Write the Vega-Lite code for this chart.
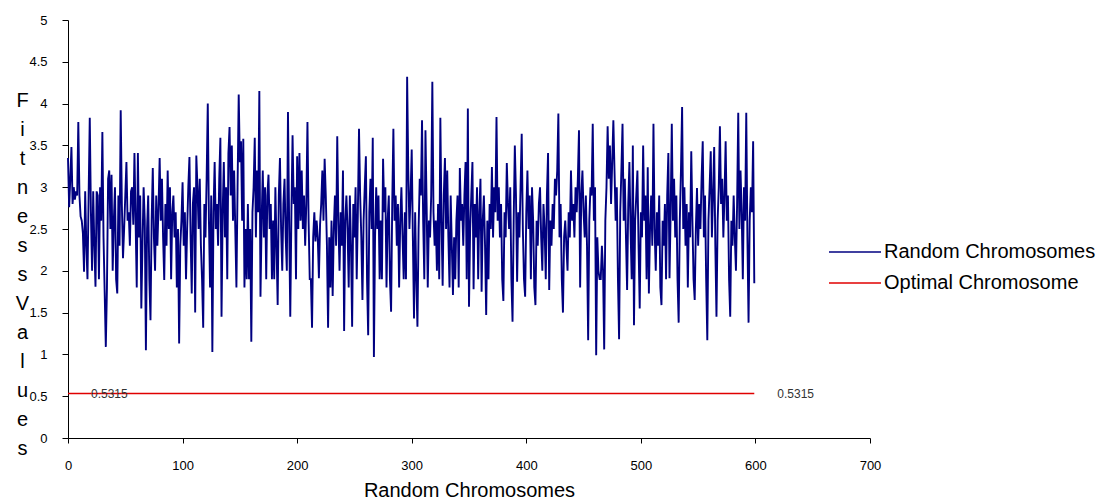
{
"$schema": "https://vega.github.io/schema/vega-lite/v6.json",
"width": 802,
"height": 418,
"autosize": {"type": "none"},
"padding": {"left": 68, "top": 20, "right": 231, "bottom": 63},
"background": "white",
"config": {"view": {"stroke": null}, "font": "Liberation Sans"},
"datasets": {
"rand": [
{"x":0,"y":3.35},{"x":1,"y":2.76},{"x":2,"y":3.1},{"x":3,"y":3.48},{"x":4,"y":2.8},{"x":5,"y":3.0},{"x":6,"y":2.85},{"x":7,"y":2.95},{"x":8,"y":2.9},{"x":9,"y":3.78},
{"x":10,"y":2.9},{"x":11,"y":2.65},{"x":12,"y":2.6},{"x":13,"y":2.45},{"x":14,"y":1.99},{"x":15,"y":2.95},{"x":16,"y":2.3},{"x":17,"y":1.9},{"x":18,"y":2.9},{"x":19,"y":3.83},
{"x":20,"y":2.7},{"x":21,"y":2.0},{"x":22,"y":2.95},{"x":23,"y":2.3},{"x":24,"y":1.81},{"x":25,"y":2.95},{"x":26,"y":2.9},{"x":27,"y":1.9},{"x":28,"y":3.0},{"x":29,"y":2.6},
{"x":30,"y":3.66},{"x":31,"y":2.4},{"x":32,"y":1.75},{"x":33,"y":1.09},{"x":34,"y":1.8},{"x":35,"y":3.1},{"x":36,"y":3.2},{"x":37,"y":2.5},{"x":38,"y":3.15},{"x":39,"y":2.0},
{"x":40,"y":2.6},{"x":41,"y":3.0},{"x":42,"y":1.9},{"x":43,"y":1.73},{"x":44,"y":2.9},{"x":45,"y":2.3},{"x":46,"y":3.92},{"x":47,"y":2.8},{"x":48,"y":2.15},{"x":49,"y":2.5},
{"x":50,"y":2.9},{"x":51,"y":3.3},{"x":52,"y":2.6},{"x":53,"y":2.7},{"x":54,"y":2.3},{"x":55,"y":2.95},{"x":56,"y":3.0},{"x":57,"y":2.55},{"x":58,"y":3.41},{"x":59,"y":2.6},
{"x":60,"y":1.8},{"x":61,"y":3.41},{"x":62,"y":2.4},{"x":63,"y":2.9},{"x":64,"y":1.55},{"x":65,"y":2.3},{"x":66,"y":3.0},{"x":67,"y":2.6},{"x":68,"y":1.05},{"x":69,"y":2.5},
{"x":70,"y":2.9},{"x":71,"y":1.9},{"x":72,"y":1.41},{"x":73,"y":2.6},{"x":74,"y":3.23},{"x":75,"y":2.4},{"x":76,"y":2.0},{"x":77,"y":2.9},{"x":78,"y":2.3},{"x":79,"y":2.75},
{"x":80,"y":3.35},{"x":81,"y":2.6},{"x":82,"y":3.1},{"x":83,"y":2.4},{"x":84,"y":1.89},{"x":85,"y":2.8},{"x":86,"y":2.3},{"x":87,"y":3.2},{"x":88,"y":2.5},{"x":89,"y":3.0},
{"x":90,"y":1.9},{"x":91,"y":2.7},{"x":92,"y":2.9},{"x":93,"y":2.4},{"x":94,"y":2.7},{"x":95,"y":1.8},{"x":96,"y":2.5},{"x":97,"y":1.13},{"x":98,"y":2.3},{"x":99,"y":2.6},
{"x":100,"y":3.06},{"x":101,"y":2.3},{"x":102,"y":2.7},{"x":103,"y":1.9},{"x":104,"y":2.5},{"x":105,"y":3.0},{"x":106,"y":3.36},{"x":107,"y":2.4},{"x":108,"y":1.73},{"x":109,"y":2.8},
{"x":110,"y":3.0},{"x":111,"y":1.5},{"x":112,"y":3.38},{"x":113,"y":3.0},{"x":114,"y":2.5},{"x":115,"y":3.1},{"x":116,"y":2.3},{"x":117,"y":1.9},{"x":118,"y":1.32},{"x":119,"y":2.8},
{"x":120,"y":2.4},{"x":121,"y":3.1},{"x":122,"y":4.0},{"x":123,"y":2.6},{"x":124,"y":1.8},{"x":125,"y":2.9},{"x":126,"y":1.03},{"x":127,"y":2.7},{"x":128,"y":3.3},{"x":129,"y":2.5},
{"x":130,"y":2.8},{"x":131,"y":2.3},{"x":132,"y":3.1},{"x":133,"y":3.59},{"x":134,"y":1.45},{"x":135,"y":2.7},{"x":136,"y":3.3},{"x":137,"y":2.4},{"x":138,"y":3.0},{"x":139,"y":1.9},
{"x":140,"y":3.4},{"x":141,"y":3.72},{"x":142,"y":2.9},{"x":143,"y":3.5},{"x":144,"y":2.6},{"x":145,"y":3.2},{"x":146,"y":2.5},{"x":147,"y":1.8},{"x":148,"y":3.0},{"x":149,"y":4.11},
{"x":150,"y":3.3},{"x":151,"y":3.55},{"x":152,"y":2.6},{"x":153,"y":3.58},{"x":154,"y":1.8},{"x":155,"y":2.5},{"x":156,"y":1.9},{"x":157,"y":2.8},{"x":158,"y":1.9},{"x":159,"y":2.5},
{"x":160,"y":1.15},{"x":161,"y":2.7},{"x":162,"y":3.0},{"x":163,"y":3.59},{"x":164,"y":2.4},{"x":165,"y":3.2},{"x":166,"y":2.7},{"x":167,"y":4.15},{"x":168,"y":1.69},{"x":169,"y":2.6},
{"x":170,"y":3.2},{"x":171,"y":2.4},{"x":172,"y":3.0},{"x":173,"y":1.9},{"x":174,"y":2.9},{"x":175,"y":3.15},{"x":176,"y":2.5},{"x":177,"y":2.8},{"x":178,"y":1.9},{"x":179,"y":2.6},
{"x":180,"y":1.9},{"x":181,"y":3.0},{"x":182,"y":2.3},{"x":183,"y":1.59},{"x":184,"y":2.9},{"x":185,"y":3.35},{"x":186,"y":2.5},{"x":187,"y":2.0},{"x":188,"y":2.8},{"x":189,"y":3.1},
{"x":190,"y":2.4},{"x":191,"y":2.0},{"x":192,"y":3.9},{"x":193,"y":2.6},{"x":194,"y":1.45},{"x":195,"y":2.7},{"x":196,"y":3.62},{"x":197,"y":2.8},{"x":198,"y":3.0},{"x":199,"y":1.9},
{"x":200,"y":3.37},{"x":201,"y":2.5},{"x":202,"y":3.41},{"x":203,"y":2.6},{"x":204,"y":3.2},{"x":205,"y":2.5},{"x":206,"y":2.9},{"x":207,"y":2.3},{"x":208,"y":2.8},{"x":209,"y":3.78},
{"x":210,"y":2.6},{"x":211,"y":1.9},{"x":212,"y":1.9},{"x":213,"y":1.32},{"x":214,"y":2.4},{"x":215,"y":2.7},{"x":216,"y":2.35},{"x":217,"y":2.6},{"x":218,"y":2.4},{"x":219,"y":1.91},
{"x":220,"y":2.55},{"x":221,"y":2.8},{"x":222,"y":3.2},{"x":223,"y":2.6},{"x":224,"y":3.34},{"x":225,"y":2.9},{"x":226,"y":2.3},{"x":227,"y":1.32},{"x":228,"y":2.4},{"x":229,"y":1.8},
{"x":230,"y":2.6},{"x":231,"y":1.7},{"x":232,"y":2.5},{"x":233,"y":2.9},{"x":234,"y":2.3},{"x":235,"y":3.61},{"x":236,"y":2.6},{"x":237,"y":2.0},{"x":238,"y":2.7},{"x":239,"y":2.3},
{"x":240,"y":3.2},{"x":241,"y":1.28},{"x":242,"y":2.6},{"x":243,"y":2.9},{"x":244,"y":2.5},{"x":245,"y":1.8},{"x":246,"y":2.9},{"x":247,"y":2.3},{"x":248,"y":1.33},{"x":249,"y":2.8},
{"x":250,"y":2.4},{"x":251,"y":3.0},{"x":252,"y":1.9},{"x":253,"y":2.7},{"x":254,"y":3.7},{"x":255,"y":2.9},{"x":256,"y":2.4},{"x":257,"y":1.65},{"x":258,"y":2.6},{"x":259,"y":3.0},
{"x":260,"y":3.37},{"x":261,"y":1.9},{"x":262,"y":1.23},{"x":263,"y":2.7},{"x":264,"y":3.1},{"x":265,"y":2.5},{"x":266,"y":3.59},{"x":267,"y":0.97},{"x":268,"y":2.4},{"x":269,"y":3.0},
{"x":270,"y":2.5},{"x":271,"y":2.9},{"x":272,"y":1.9},{"x":273,"y":2.6},{"x":274,"y":1.9},{"x":275,"y":3.34},{"x":276,"y":2.7},{"x":277,"y":3.0},{"x":278,"y":1.8},{"x":279,"y":2.6},
{"x":280,"y":2.9},{"x":281,"y":1.9},{"x":282,"y":1.51},{"x":283,"y":2.8},{"x":284,"y":3.7},{"x":285,"y":2.6},{"x":286,"y":2.9},{"x":287,"y":2.3},{"x":288,"y":2.8},{"x":289,"y":1.8},
{"x":290,"y":2.6},{"x":291,"y":3.0},{"x":292,"y":2.4},{"x":293,"y":1.9},{"x":294,"y":2.7},{"x":295,"y":1.9},{"x":296,"y":4.32},{"x":297,"y":3.2},{"x":298,"y":2.5},{"x":299,"y":2.9},
{"x":300,"y":3.45},{"x":301,"y":2.4},{"x":302,"y":1.43},{"x":303,"y":2.7},{"x":304,"y":1.9},{"x":305,"y":1.33},{"x":306,"y":2.5},{"x":307,"y":3.1},{"x":308,"y":2.9},{"x":309,"y":3.8},
{"x":310,"y":2.6},{"x":311,"y":1.9},{"x":312,"y":3.68},{"x":313,"y":2.8},{"x":314,"y":1.8},{"x":315,"y":2.6},{"x":316,"y":2.4},{"x":317,"y":2.9},{"x":318,"y":4.26},{"x":319,"y":2.7},
{"x":320,"y":2.3},{"x":321,"y":2.6},{"x":322,"y":2.0},{"x":323,"y":2.8},{"x":324,"y":1.9},{"x":325,"y":3.83},{"x":326,"y":2.6},{"x":327,"y":1.82},{"x":328,"y":2.9},{"x":329,"y":3.35},
{"x":330,"y":2.5},{"x":331,"y":3.2},{"x":332,"y":2.4},{"x":333,"y":1.8},{"x":334,"y":2.9},{"x":335,"y":2.3},{"x":336,"y":1.71},{"x":337,"y":2.4},{"x":338,"y":1.9},{"x":339,"y":2.6},
{"x":340,"y":2.9},{"x":341,"y":1.8},{"x":342,"y":3.23},{"x":343,"y":2.6},{"x":344,"y":2.8},{"x":345,"y":2.3},{"x":346,"y":2.9},{"x":347,"y":3.3},{"x":348,"y":1.9},{"x":349,"y":3.94},
{"x":350,"y":1.57},{"x":351,"y":2.5},{"x":352,"y":2.9},{"x":353,"y":3.3},{"x":354,"y":1.78},{"x":355,"y":2.8},{"x":356,"y":2.4},{"x":357,"y":3.0},{"x":358,"y":1.9},{"x":359,"y":2.7},
{"x":360,"y":3.1},{"x":361,"y":1.75},{"x":362,"y":2.6},{"x":363,"y":2.9},{"x":364,"y":2.3},{"x":365,"y":1.47},{"x":366,"y":2.6},{"x":367,"y":1.9},{"x":368,"y":2.8},{"x":369,"y":2.5},
{"x":370,"y":3.24},{"x":371,"y":2.4},{"x":372,"y":3.0},{"x":373,"y":2.7},{"x":374,"y":3.84},{"x":375,"y":2.6},{"x":376,"y":3.0},{"x":377,"y":2.4},{"x":378,"y":2.8},{"x":379,"y":1.9},
{"x":380,"y":1.64},{"x":381,"y":2.7},{"x":382,"y":2.4},{"x":383,"y":3.29},{"x":384,"y":2.8},{"x":385,"y":2.5},{"x":386,"y":3.0},{"x":387,"y":1.9},{"x":388,"y":1.39},{"x":389,"y":2.6},
{"x":390,"y":3.5},{"x":391,"y":2.9},{"x":392,"y":1.87},{"x":393,"y":2.7},{"x":394,"y":2.4},{"x":395,"y":3.0},{"x":396,"y":3.64},{"x":397,"y":2.5},{"x":398,"y":1.9},{"x":399,"y":1.69},
{"x":400,"y":2.7},{"x":401,"y":3.2},{"x":402,"y":2.5},{"x":403,"y":2.9},{"x":404,"y":1.9},{"x":405,"y":3.0},{"x":406,"y":2.6},{"x":407,"y":1.8},{"x":408,"y":1.59},{"x":409,"y":2.6},
{"x":410,"y":2.3},{"x":411,"y":2.8},{"x":412,"y":3.0},{"x":413,"y":2.4},{"x":414,"y":2.0},{"x":415,"y":2.8},{"x":416,"y":2.5},{"x":417,"y":1.9},{"x":418,"y":2.9},{"x":419,"y":3.41},
{"x":420,"y":1.77},{"x":421,"y":2.6},{"x":422,"y":2.3},{"x":423,"y":2.8},{"x":424,"y":2.5},{"x":425,"y":3.1},{"x":426,"y":2.9},{"x":427,"y":3.2},{"x":428,"y":3.88},{"x":429,"y":2.4},
{"x":430,"y":2.8},{"x":431,"y":1.9},{"x":432,"y":1.5},{"x":433,"y":2.4},{"x":434,"y":2.6},{"x":435,"y":2.3},{"x":436,"y":2.0},{"x":437,"y":2.7},{"x":438,"y":2.4},{"x":439,"y":3.2},
{"x":440,"y":2.6},{"x":441,"y":2.8},{"x":442,"y":2.4},{"x":443,"y":3.0},{"x":444,"y":2.7},{"x":445,"y":3.1},{"x":446,"y":3.68},{"x":447,"y":1.8},{"x":448,"y":2.9},{"x":449,"y":3.2},
{"x":450,"y":2.7},{"x":451,"y":2.4},{"x":452,"y":2.9},{"x":453,"y":2.3},{"x":454,"y":1.17},{"x":455,"y":2.6},{"x":456,"y":3.0},{"x":457,"y":2.9},{"x":458,"y":3.76},{"x":459,"y":2.6},
{"x":460,"y":3.0},{"x":461,"y":0.99},{"x":462,"y":2.4},{"x":463,"y":2.0},{"x":464,"y":1.9},{"x":465,"y":1.9},{"x":466,"y":2.3},{"x":467,"y":2.0},{"x":468,"y":1.06},{"x":469,"y":2.6},
{"x":470,"y":3.0},{"x":471,"y":3.73},{"x":472,"y":3.1},{"x":473,"y":3.5},{"x":474,"y":2.8},{"x":475,"y":3.3},{"x":476,"y":3.8},{"x":477,"y":3.2},{"x":478,"y":2.6},{"x":479,"y":3.0},
{"x":480,"y":1.9},{"x":481,"y":1.18},{"x":482,"y":2.7},{"x":483,"y":3.2},{"x":484,"y":3.76},{"x":485,"y":2.6},{"x":486,"y":3.1},{"x":487,"y":2.4},{"x":488,"y":1.77},{"x":489,"y":2.8},
{"x":490,"y":3.3},{"x":491,"y":2.5},{"x":492,"y":1.9},{"x":493,"y":3.5},{"x":494,"y":1.35},{"x":495,"y":2.6},{"x":496,"y":2.9},{"x":497,"y":3.2},{"x":498,"y":2.3},{"x":499,"y":1.55},
{"x":500,"y":2.7},{"x":501,"y":2.4},{"x":502,"y":3.5},{"x":503,"y":2.6},{"x":504,"y":2.9},{"x":505,"y":1.9},{"x":506,"y":3.24},{"x":507,"y":1.73},{"x":508,"y":2.5},{"x":509,"y":2.9},
{"x":510,"y":2.3},{"x":511,"y":3.76},{"x":512,"y":2.5},{"x":513,"y":2.0},{"x":514,"y":2.7},{"x":515,"y":2.3},{"x":516,"y":2.9},{"x":517,"y":1.8},{"x":518,"y":1.59},{"x":519,"y":2.6},
{"x":520,"y":2.3},{"x":521,"y":2.8},{"x":522,"y":1.9},{"x":523,"y":2.9},{"x":524,"y":3.41},{"x":525,"y":1.91},{"x":526,"y":2.7},{"x":527,"y":3.76},{"x":528,"y":2.6},{"x":529,"y":3.1},
{"x":530,"y":2.4},{"x":531,"y":2.9},{"x":532,"y":1.9},{"x":533,"y":1.38},{"x":534,"y":2.6},{"x":535,"y":3.2},{"x":536,"y":3.96},{"x":537,"y":2.5},{"x":538,"y":3.0},{"x":539,"y":2.3},
{"x":540,"y":2.8},{"x":541,"y":1.8},{"x":542,"y":2.7},{"x":543,"y":2.4},{"x":544,"y":3.43},{"x":545,"y":2.6},{"x":546,"y":1.9},{"x":547,"y":1.65},{"x":548,"y":2.5},{"x":549,"y":2.99},
{"x":550,"y":2.3},{"x":551,"y":2.8},{"x":552,"y":2.5},{"x":553,"y":3.1},{"x":554,"y":3.55},{"x":555,"y":2.4},{"x":556,"y":2.9},{"x":557,"y":1.9},{"x":558,"y":1.17},{"x":559,"y":2.6},
{"x":560,"y":3.0},{"x":561,"y":3.43},{"x":562,"y":2.4},{"x":563,"y":2.9},{"x":564,"y":3.48},{"x":565,"y":2.3},{"x":566,"y":1.45},{"x":567,"y":2.6},{"x":568,"y":3.0},{"x":569,"y":3.73},
{"x":570,"y":2.8},{"x":571,"y":3.1},{"x":572,"y":2.4},{"x":573,"y":2.9},{"x":574,"y":3.55},{"x":575,"y":2.6},{"x":576,"y":2.9},{"x":577,"y":1.9},{"x":578,"y":1.45},{"x":579,"y":2.6},
{"x":580,"y":2.3},{"x":581,"y":2.9},{"x":582,"y":2.4},{"x":583,"y":2.0},{"x":584,"y":2.8},{"x":585,"y":3.89},{"x":586,"y":2.5},{"x":587,"y":3.2},{"x":588,"y":2.7},{"x":589,"y":1.9},
{"x":590,"y":3.0},{"x":591,"y":2.6},{"x":592,"y":3.89},{"x":593,"y":2.4},{"x":594,"y":1.38},{"x":595,"y":2.6},{"x":596,"y":3.0},{"x":597,"y":2.7},{"x":598,"y":3.55},{"x":599,"y":1.85}
],
"opt": [{"x":0,"y":0.5315,"label":"0.5315"},{"x":599,"y":0.5315,"label":"0.5315"}]
},
"layer": [
{
"data": {"name": "rand"},
"mark": {"type": "line", "strokeWidth": 1.9},
"encoding": {
"x": {"field": "x", "type": "quantitative", "scale": {"domain": [0, 700], "nice": false},
 "axis": {"values": [0,100,200,300,400,500,600,700], "title": "Random Chromosomes", "grid": false,
  "domainColor": "black", "tickColor": "black", "tickSize": 5, "labelFontSize": 13, "labelPadding": 16,
  "labelColor": "black", "labelFlush": false, "labelOverlap": false, "titleFontSize": 20, "titleFontWeight": "normal",
  "titleColor": "black", "titlePadding": 8, "labelExpr": "'' + datum.value"}},
"y": {"field": "y", "type": "quantitative", "scale": {"domain": [0, 5], "nice": false},
 "axis": {"values": [0,0.5,1,1.5,2,2.5,3,3.5,4,4.5,5], "grid": false,
  "title": ["F","i","t","n","e","s","s","V","a","l","u","e","s"],
  "titleAngle": 0, "titleAlign": "center", "titleBaseline": "top", "titleX": -46, "titleY": 70,
  "titleLineHeight": 29, "titleFontSize": 20, "titleFontWeight": "normal", "titleColor": "black",
  "domainColor": "black", "tickColor": "black", "tickSize": 6, "labelFontSize": 13, "labelPadding": 15,
  "labelColor": "black", "labelFlush": false, "labelOverlap": false, "labelExpr": "'' + datum.value"}},
"color": {"datum": "Random Chromosomes", "type": "nominal",
 "scale": {"domain": ["Random Chromosomes", "Optimal Chromosome"], "range": ["#000080", "#e00000"]},
 "legend": {"orient": "none", "legendX": 777, "legendY": 222, "title": null, "symbolType": "M-5.2,0H5.2",
  "symbolSize": 100, "symbolStrokeWidth": 1.5, "labelFontSize": 20, "labelColor": "black",
  "labelOffset": 19, "rowPadding": 11, "padding": 0, "labelLimit": 400}}
}
},
{
"data": {"name": "opt"},
"mark": {"type": "line", "strokeWidth": 1.5},
"encoding": {
"x": {"field": "x", "type": "quantitative"},
"y": {"field": "y", "type": "quantitative"},
"color": {"datum": "Optimal Chromosome", "type": "nominal"}
}
},
{
"data": {"name": "opt"},
"mark": {"type": "text", "align": "left", "baseline": "middle", "dx": 23, "fontSize": 12, "color": "#333333"},
"encoding": {
"x": {"field": "x", "type": "quantitative"},
"y": {"field": "y", "type": "quantitative"},
"text": {"field": "label"}
}
}
]
}
